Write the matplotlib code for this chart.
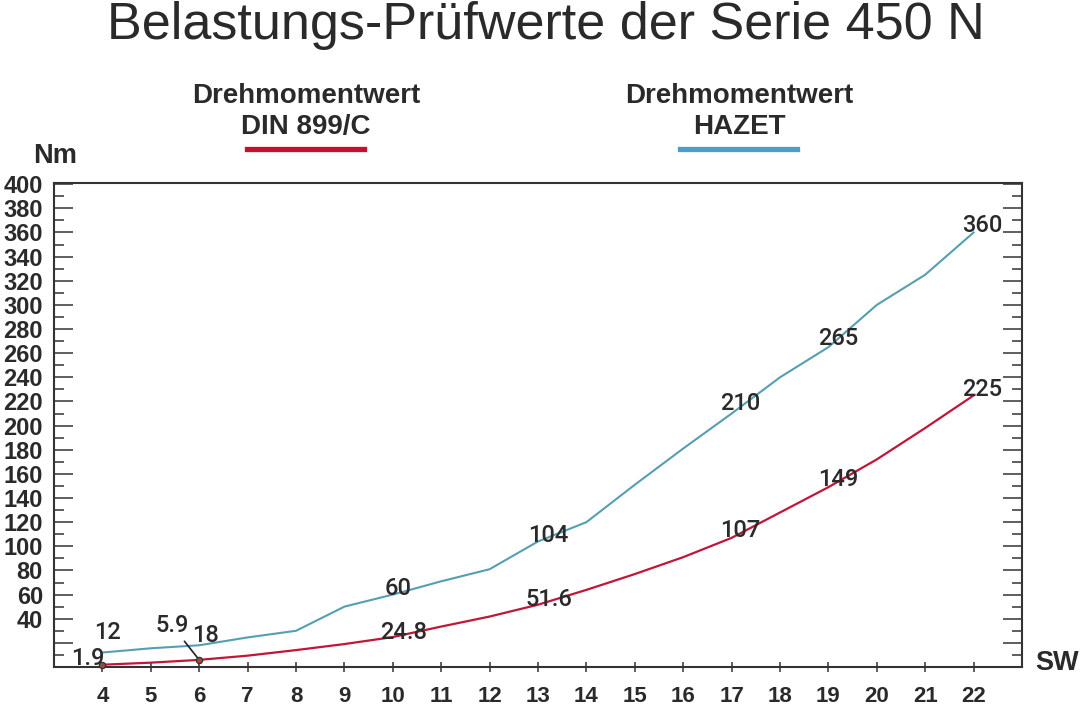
import matplotlib
matplotlib.use("Agg")
import matplotlib.pyplot as plt
from matplotlib.lines import Line2D
from matplotlib.ticker import MultipleLocator, FuncFormatter
from matplotlib import font_manager

plt.rcParams['font.family'] = ['Liberation Sans', 'DejaVu Sans']

# ---- data ----
sw = [4, 5, 6, 7, 8, 9, 10, 11, 12, 13, 14, 15, 16, 17, 18, 19, 20, 21, 22]
hazet = [12, 15.5, 18, 24.5, 30, 50, 60, 71, 81, 104, 120, 151, 181, 210, 240, 265, 300, 325, 360]
din = [1.9, 3.6, 5.9, 9.4, 14, 19, 24.8, 33.5, 41.8, 51.6, 63.9, 77, 91, 107, 128, 149, 172, 198, 225]
labeled_sw = [4, 6, 10, 13, 17, 19, 22]
hazet_labels = ["12", "18", "60", "104", "210", "265", "360"]
din_labels = ["1.9", "5.9", "24.8", "51.6", "107", "149", "225"]
title = "Belastungs-Prüfwerte der Serie 450 N"
legend_din = ("Drehmomentwert", "DIN 899/C")
legend_hazet = ("Drehmomentwert", "HAZET")

# ---- style ----
W, H = 1080, 709
RED_LINE = '#c0163a'
BLUE_LINE = '#559fb2'
RED_BAR = '#c8102e'
BLUE_BAR = '#4a9ec8'
DARK = '#2a2a2a'
AX = '#333333'

names = {f.name for f in font_manager.fontManager.ttflist}
LABEL_FAMILY = ['Roboto', 'Liberation Sans'] if 'Roboto' in names else ['Liberation Sans']

fig = plt.figure(figsize=(W / 100, H / 100), dpi=100)
ax = fig.add_axes([54 / W, (H - 667) / H, (1022 - 54) / W, (667 - 183) / H])

ax.plot(sw, hazet, color=BLUE_LINE, lw=1.5, zorder=3)
ax.plot(sw, din, color=RED_LINE, lw=1.6, zorder=3)

ax.set_xlim(3, 23)
ax.set_ylim(0, 401)

for s in ax.spines.values():
    s.set_color(AX)
    s.set_linewidth(1.5)

ax.set_xticks(sw)
ax.tick_params(axis='x', which='major', direction='inout', length=7, width=1.1,
               color=AX, pad=10, labelsize=16, labelcolor=DARK, top=False)
for lab in ax.get_xticklabels():
    lab.set_fontweight('bold')

ax.yaxis.set_major_locator(MultipleLocator(20))
ax.yaxis.set_minor_locator(MultipleLocator(10))
ax.yaxis.set_major_formatter(FuncFormatter(lambda v, p: f"{int(v)}" if v >= 40 else ""))
ax.tick_params(axis='y', which='major', direction='in', length=13.5, width=1.1,
               color=AX, pad=8, labelsize=17, labelcolor=DARK, left=True, right=True)
ax.tick_params(axis='y', which='minor', direction='in', length=7, width=1.1,
               color=AX, left=True, right=True)
for lab in ax.get_yticklabels():
    lab.set_fontweight('bold')

# data labels
hz_off = [(5, 20), (6, 10), (5, 6), (10, 6), (9, 10), (10, 9), (9, 7)]
dn_off = [(-15, 6), (-27, 34), (11, 5), (11, 5), (9, 7), (10, 8), (9, 6)]
lab_kw = dict(textcoords='offset pixels', ha='center', va='center', fontsize=17,
              color=DARK, zorder=5, family=LABEL_FAMILY, fontweight='medium')
for x, t, off in zip(labeled_sw, hazet_labels, hz_off):
    y = hazet[sw.index(x)]
    ax.annotate(t, (x, y), xytext=off, **lab_kw)
for x, t, off in zip(labeled_sw, din_labels, dn_off):
    y = din[sw.index(x)]
    kw = {}
    if t == "5.9":
        kw = dict(arrowprops=dict(arrowstyle='-', color='#222222', lw=1.2,
                                  shrinkA=1, shrinkB=0))
    ax.annotate(t, (x, y), xytext=off, **lab_kw, **kw)

# small markers on DIN 4 and 6
for x in (4, 6):
    ax.plot([x], [din[sw.index(x)]], marker='o', ms=4.5, mfc='#a0453f',
            mec='#333333', mew=0.9, zorder=6, clip_on=False)

# title
fig.text(546 / W, 1 - 26 / H, title, ha='center', va='center', fontsize=37.5, color=DARK)

# legend
def legend(cx, lines, color):
    fig.text(cx / W, 1 - 96 / H, lines[0], ha='center', va='center', fontsize=20,
             fontweight='bold', color=DARK)
    fig.text(cx / W, 1 - 127 / H, lines[1], ha='center', va='center', fontsize=20,
             fontweight='bold', color=DARK)
    fig.add_artist(Line2D([(cx - 59) / W, (cx + 58) / W], [1 - 149 / H, 1 - 149 / H],
                          color=color, lw=3.8, transform=fig.transFigure))

legend(306, legend_din, RED_BAR)
legend(739, legend_hazet, BLUE_BAR)

fig.text(55 / W, 1 - 156 / H, "Nm", ha='center', va='center', fontsize=19.5,
         fontweight='bold', color=DARK)
fig.text(1057 / W, 1 - 663 / H, "SW", ha='center', va='center', fontsize=19.5,
         fontweight='bold', color=DARK)

fig.savefig("out.png", dpi=100, facecolor='white')
